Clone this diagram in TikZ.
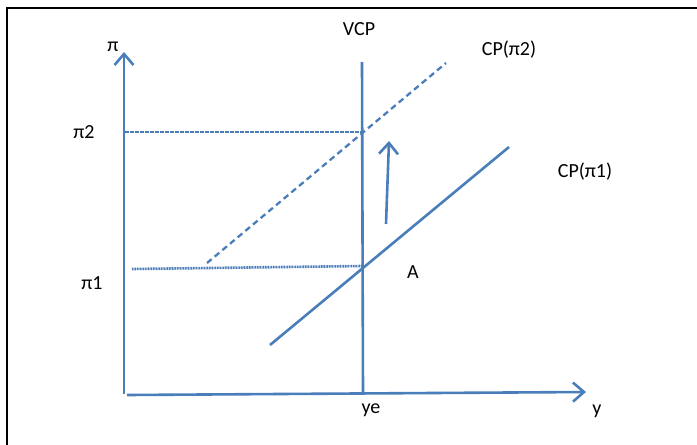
\documentclass[tikz,border=0pt]{standalone}
\usepackage{fontspec}
\setmainfont{Carlito}
\usetikzlibrary{arrows.meta}
\definecolor{lineblue}{RGB}{74,126,187}
\tikzset{
  ln/.style={draw=lineblue, line width=2.6pt},
  dashln/.style={draw=lineblue, line width=2.3pt, dash pattern=on 6pt off 4pt},
  dotln/.style={draw=lineblue, line width=2.6pt, dash pattern=on 1pt off 0.6pt},
  arr/.style={-{Straight Barb[length=11pt,width=19pt,line width=2.6pt]}},
  lbl/.style={font=\fontsize{20}{24}\selectfont, text=black, inner sep=0pt},
  frame/.style={draw=black, line width=2.2pt}
}
\begin{document}
\begin{tikzpicture}[x=1pt,y=-1pt]
\useasboundingbox (0,0) rectangle (697,445);
% frame
\coordinate (f1) at (7,445);
\coordinate (f2) at (7,8);
\coordinate (f3) at (697,8);
\draw[frame] (f1) -- (f2) -- (f3);
% axes
\coordinate (o) at (124,394);
\coordinate (ytop) at (124,52);
\coordinate (xo) at (127,395);
\coordinate (xend) at (586,392);
\draw[ln,arr] (o) -- (ytop);
\draw[ln,arr] (xo) -- (xend);
% VCP
\coordinate (vtop) at (362,62);
\coordinate (vbot) at (363,394);
\draw[ln] (vtop) -- (vbot);
% CP(pi1)
\coordinate (c1a) at (270,345);
\coordinate (c1b) at (509,147);
\draw[ln] (c1a) -- (c1b);
% CP(pi2)
\coordinate (c2a) at (207,263);
\coordinate (c2b) at (446,63);
\draw[dashln] (c2a) -- (c2b);
% pi2 line
\coordinate (p2l) at (125,132);
\coordinate (p2r) at (362,132);
\draw[dashln, dash pattern=on 4pt off 1pt] (p2l) -- (p2r);
% pi1 line
\coordinate (p1l) at (132,269);
\coordinate (p1r) at (362,266);
\draw[dotln] (p1l) -- (p1r);
% shift arrow
\coordinate (sa) at (386,224);
\coordinate (sb) at (389,141);
\draw[ln,arr] (sa) -- (sb);
% labels
\node[lbl] (lpi) at (113,47) {π};
\node[lbl] (lpi2) at (84,132) {π2};
\node[lbl] (lpi1) at (92,283) {π1};
\node[lbl] (lvcp) at (359,29) {VCP};
\node[lbl] (lcp2) at (509,50) {CP(π2)};
\node[lbl] (lcp1) at (585,172) {CP(π1)};
\node[lbl] (la) at (413,272) {A};
\node[lbl] (lye) at (371,410) {ye};
\node[lbl] (ly) at (597,411) {y};
\end{tikzpicture}
\end{document}
